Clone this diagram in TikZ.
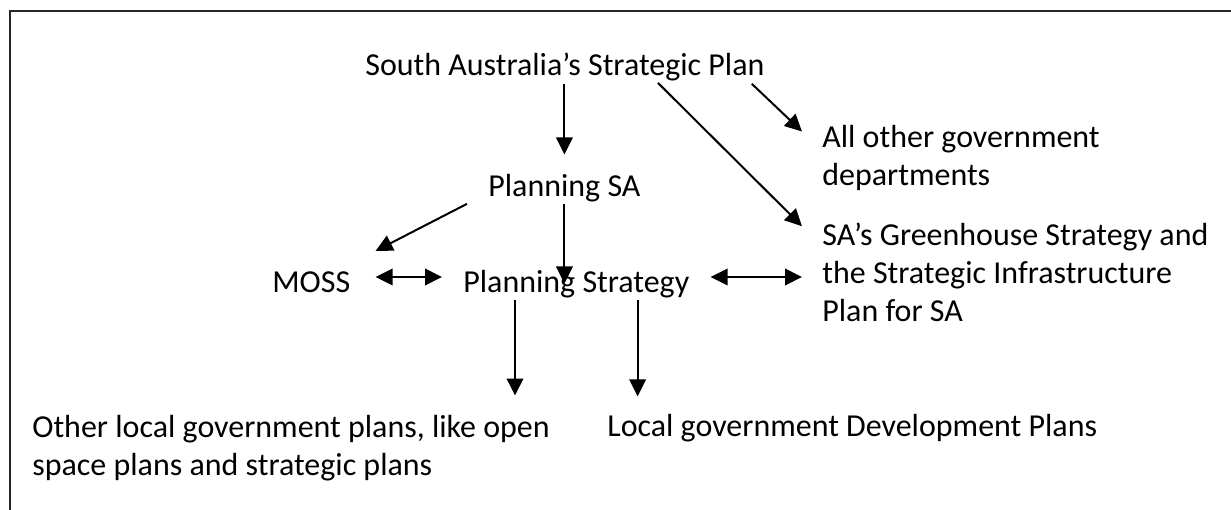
\documentclass[tikz,border=0pt]{standalone}
\usepackage{fontspec}
\setmainfont{Carlito}
\usetikzlibrary{arrows.meta,calc}

\begin{document}
\begin{tikzpicture}[x=0.02cm, y=-0.02cm,
    every node/.style={font=\fontsize{18.2pt}{21.6pt}\selectfont},
    lbl/.style={inner sep=0pt, anchor=base west, align=left},
    arr/.style={-{Triangle[length=0.34cm,width=0.33cm]}, line width=0.04cm},
    darr/.style={{Triangle[length=0.34cm,width=0.33cm]}-{Triangle[length=0.34cm,width=0.33cm]}, line width=0.04cm}]
  \useasboundingbox (0,0) rectangle (1231,510);
  % frame, only its left and top edges are on the page
  \draw[line width=0.045cm, black!85] (10,510) -- (10,11) -- (1231,11);

  % plans and strategies (base = baseline of the last line)
  \node[lbl] (sasp) at (365,76) {South Australia’s Strategic Plan};
  \node[lbl] (psa) at (488,196) {Planning SA};
  \node[lbl] (moss) at (272,292) {MOSS};
  \node[lbl] (pstrat) at (463,292) {Planning Strategy};
  \node[lbl] (others) at (822,185) {All other government\\departments};
  \node[lbl] (green) at (822,321) {SA’s Greenhouse Strategy and\\the Strategic Infrastructure\\Plan for SA};
  \node[lbl] (olgp) at (32,475) {Other local government plans, like open\\space plans and strategic plans};
  \node[lbl] (ldp) at (607,436) {Local government Development Plans};

  % links
  \draw[arr] ($(sasp.south -| psa.north)+(0,2)$) -- ($(psa.north)+(0,-19)$);
  \draw[arr] ($(sasp.south east)+(-13,2)$) -- ($(others.north west)+(-20,7)$);
  \draw[arr] ($(sasp.south)+(93,1)$) -- ($(green.north west)+(-20,4)$);
  \draw[arr] ($(psa.south west)+(-21,2)$) -- ($(moss.north east)+(25,-20)$);
  \draw[arr] ($(psa.south)+(0,2)$) -- ($(psa.south |- pstrat.north)+(0,14)$);
  \draw[darr] ($(moss.base east)+(25,-15)$) -- ($(pstrat.base west)+(-21,-15)$);
  \draw[darr] ($(pstrat.base east)+(21,-15)$) -- ($(pstrat.base east -| green.west)+(-20,-15)$);
  \draw[arr] ($(pstrat.south west)+(52,2)$) -- ($(pstrat.south west |- olgp.north)+(52,-19)$);
  \draw[arr] ($(pstrat.south east)+(-52,2)$) -- ($(pstrat.south east |- ldp.north)+(-52,-17)$);
\end{tikzpicture}
\end{document}
